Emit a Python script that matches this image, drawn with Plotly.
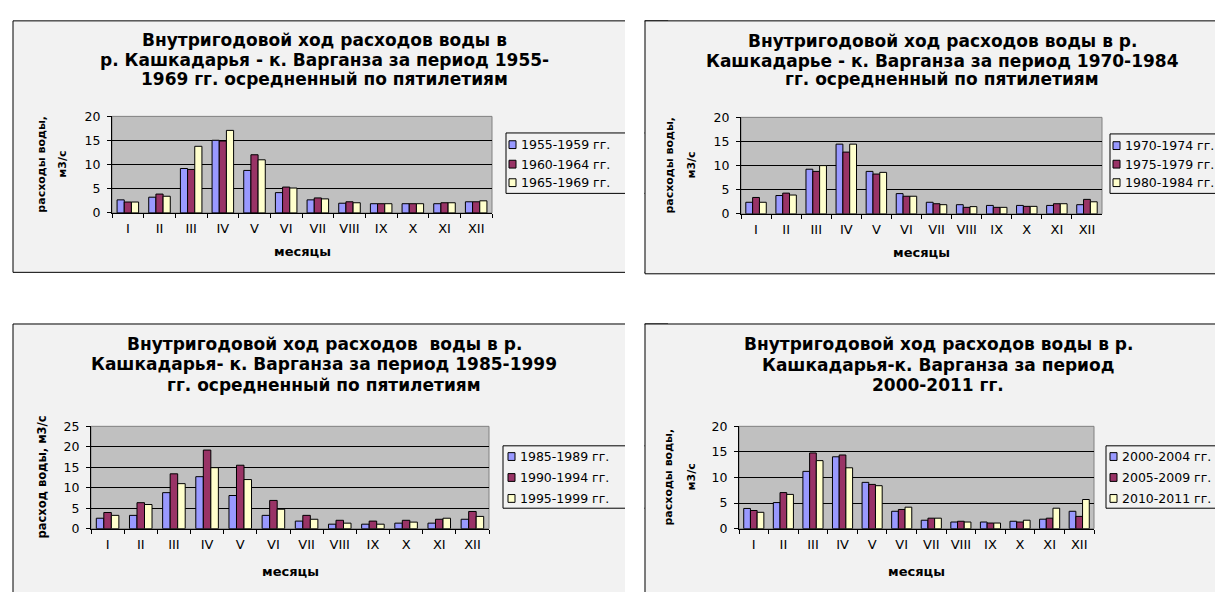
import plotly.graph_objects as go

W, H = 1223, 592

months = ["I", "II", "III", "IV", "V", "VI", "VII", "VIII", "IX", "X", "XI", "XII"]

# Panel 1: 1955-1969
names_1 = ["1955-1959 гг.", "1960-1964 гг.", "1965-1969 гг."]
q_1955_59 = [2.7, 3.25, 9.2, 15.05, 8.8, 4.2, 2.7, 2.0, 1.9, 1.9, 1.9, 2.3]
q_1960_64 = [2.25, 3.9, 9.0, 14.9, 12.05, 5.35, 3.1, 2.3, 1.9, 1.9, 2.1, 2.3]
q_1965_69 = [2.25, 3.45, 13.8, 17.1, 11.0, 5.15, 2.9, 2.1, 1.9, 1.9, 2.1, 2.5]

# Panel 2: 1970-1984
names_2 = ["1970-1974 гг.", "1975-1979 гг.", "1980-1984 гг."]
q_1970_74 = [2.4, 3.8, 9.25, 14.45, 8.8, 4.2, 2.4, 1.9, 1.75, 1.75, 1.75, 1.9]
q_1975_79 = [3.4, 4.3, 8.8, 12.8, 8.25, 3.65, 2.1, 1.35, 1.35, 1.55, 2.1, 3.0]
q_1980_84 = [2.4, 3.9, 10.0, 14.45, 8.6, 3.65, 1.9, 1.5, 1.35, 1.55, 2.1, 2.5]

# Panel 3: 1985-1999
names_3 = ["1985-1989 гг.", "1990-1994 гг.", "1995-1999 гг."]
q_1985_89 = [2.55, 3.25, 8.8, 12.7, 8.1, 3.25, 1.85, 1.1, 1.1, 1.35, 1.35, 2.3]
q_1990_94 = [3.95, 6.35, 13.4, 19.2, 15.5, 6.9, 3.25, 2.05, 1.85, 2.05, 2.3, 4.2]
q_1995_99 = [3.25, 5.9, 11.0, 14.9, 12.0, 4.75, 2.3, 1.35, 1.1, 1.6, 2.55, 3.0]

# Panel 4: 2000-2011
names_4 = ["2000-2004 гг.", "2005-2009 гг.", "2010-2011 гг."]
q_2000_04 = [3.95, 5.1, 11.2, 14.05, 9.05, 3.4, 1.65, 1.3, 1.3, 1.45, 1.85, 3.4]
q_2005_09 = [3.55, 7.05, 14.8, 14.4, 8.65, 3.75, 2.05, 1.45, 1.1, 1.3, 2.05, 2.4]
q_2010_11 = [3.2, 6.7, 13.3, 11.9, 8.4, 4.2, 2.05, 1.3, 1.1, 1.65, 4.0, 5.7]

titles = [
    ["Внутригодовой ход расходов воды в",
     "р. Кашкадарья - к. Варганза за период 1955-",
     "1969 гг. осредненный по пятилетиям"],
    ["Внутригодовой ход расходов воды в р.",
     "Кашкадарье - к. Варганза за период 1970-1984",
     "гг. осредненный по пятилетиям"],
    ["Внутригодовой ход расходов  воды в р.",
     "Кашкадарья- к. Варганза за период 1985-1999",
     "гг. осредненный по пятилетиям"],
    ["Внутригодовой ход расходов воды в р.",
     "Кашкадарья-к. Варганза за период",
     "2000-2011 гг."],
]
ytitles = [
    ["расходы воды,", "м3/с"],
    ["расходы воды,", "м3/с"],
    ["расход воды, м3/с"],
    ["расходы воды,", "м3/с"],
]
xtitle = "месяцы"
series = [
    (names_1, [q_1955_59, q_1960_64, q_1965_69]),
    (names_2, [q_1970_74, q_1975_79, q_1980_84]),
    (names_3, [q_1985_89, q_1990_94, q_1995_99]),
    (names_4, [q_2000_04, q_2005_09, q_2010_11]),
]
ymax = [20, 20, 25, 20]

colors = ["#9999FF", "#993366", "#FFFFCC"]
FONT = "DejaVu Sans"


def fx(x):
    return x / W


def fy(y):
    return 1 - y / H


# layout geometry (pixels)
panels = [
    dict(box=(5, 5, 660, 263), plot=(104, 103, 484, 202), title_x=316, title_y=(25, 45, 65),
         yt_x=(34, 55), xt_y=242, leg=(498, 120, 660, 182), leg_items=(132, 152, 171), sw_x=501),
    dict(box=(637, 5, 1221.5, 264.5), plot=(733, 104, 1094, 203), title_x=934, title_y=(26, 46, 65),
         yt_x=(662, 684), xt_y=243, leg=(1102, 121, 1221.5, 182), leg_items=(133, 152, 171), sw_x=1105),
    dict(box=(5, 316, 660, 640), plot=(83, 421, 481, 526), title_x=316, title_y=(337, 357, 379),
         yt_x=(34,), xt_y=570, leg=(495, 441, 660, 505), leg_items=(452, 473.5, 495), sw_x=500),
    dict(box=(637, 316, 1221.5, 640), plot=(731, 421, 1086, 526), title_x=930, title_y=(337, 358, 379),
         yt_x=(661, 684), xt_y=570, leg=(1098, 441, 1217, 505), leg_items=(452, 473.5, 495), sw_x=1102),
]

fig = go.Figure()
shapes = []
annotations = []
layout_axes = {}


def panel_shapes(i):
    p = panels[i]
    l, t, r, b = p["box"]
    s = [dict(type="rect", xref="paper", yref="paper", x0=fx(l), x1=fx(r), y0=fy(b), y1=fy(t),
              fillcolor="#F2F2F2", line=dict(color="black", width=1), layer="below")]
    l, t, r, b = p["leg"]
    s.append(dict(type="rect", xref="paper", yref="paper", x0=fx(l), x1=fx(r), y0=fy(b), y1=fy(t),
                  fillcolor="#F2F2F2", line=dict(color="black", width=1), layer="below"))
    for k, yc in enumerate(p["leg_items"]):
        sx = p["sw_x"]
        s.append(dict(type="rect", xref="paper", yref="paper", x0=fx(sx), x1=fx(sx + 7),
                      y0=fy(yc + 4), y1=fy(yc - 4), fillcolor=colors[k],
                      line=dict(color="black", width=1), layer="below"))
    return s


# left panels first, then white gap strip, then right panels
for i in (0, 2):
    shapes += panel_shapes(i)
shapes.append(dict(type="rect", xref="paper", yref="paper", x0=fx(617), x1=fx(636.5), y0=-0.1, y1=1.1,
                   fillcolor="white", line=dict(width=0), layer="below"))
for i in (1, 3):
    shapes += panel_shapes(i)

for i, p in enumerate(panels):
    n = "" if i == 0 else str(i + 1)
    xa, ya = "x" + n, "y" + n
    pl, pt, pr, pb = p["plot"]
    names, vals = series[i]
    for k in range(3):
        fig.add_trace(go.Bar(x=months, y=vals[k], name=names[k], xaxis=xa, yaxis=ya,
                             marker=dict(color=colors[k], line=dict(color="black", width=1)),
                             showlegend=False))
    layout_axes["xaxis" + n] = dict(
        domain=[fx(pl), fx(pr)], anchor=ya, type="category", tickson="boundaries",
        ticks="outside", ticklen=4, tickcolor="black", showline=True, linecolor="black",
        linewidth=1, showgrid=False, tickfont=dict(family=FONT, size=13, color="black"),
        ticklabelstandoff=4, fixedrange=True)
    layout_axes["yaxis" + n] = dict(
        domain=[fy(pb), fy(pt)], anchor=xa, range=[0, ymax[i]], dtick=5,
        ticks="outside", ticklen=4, tickcolor="black", showline=True, linecolor="black",
        linewidth=1, showgrid=True, gridcolor="black", gridwidth=1, zeroline=False,
        tickfont=dict(family=FONT, size=12.5, color="black"), ticklabelstandoff=4, fixedrange=True)
    # plot area background
    shapes.append(dict(type="rect", xref=xa + " domain", yref=ya + " domain", x0=0, x1=1, y0=0, y1=1,
                       fillcolor="#C0C0C0", line=dict(color="#808080", width=1), layer="below"))
    # title lines
    for line, yy in zip(titles[i], p["title_y"]):
        annotations.append(dict(text="<b>" + line + "</b>", xref="paper", yref="paper",
                                x=fx(p["title_x"]), y=fy(yy), xanchor="center", yanchor="middle",
                                showarrow=False, font=dict(family=FONT, size=17, color="black")))
    # y-axis title
    ymid = (pt + pb) / 2
    ysize = 11.5 if len(ytitles[i]) == 1 else 11
    for line, xx in zip(ytitles[i], p["yt_x"]):
        annotations.append(dict(text="<b>" + line + "</b>", xref="paper", yref="paper",
                                x=fx(xx), y=fy(ymid), xanchor="center", yanchor="middle",
                                textangle=-90, showarrow=False,
                                font=dict(family=FONT, size=ysize, color="black")))
    # x-axis title
    annotations.append(dict(text="<b>" + xtitle + "</b>", xref="paper", yref="paper",
                            x=fx((pl + pr) / 2), y=fy(p["xt_y"]), xanchor="center", yanchor="middle",
                            showarrow=False, font=dict(family=FONT, size=13, color="black")))
    # legend labels
    for k, yc in enumerate(p["leg_items"]):
        annotations.append(dict(text=names[k], xref="paper", yref="paper",
                                x=fx(p["sw_x"] + 10), y=fy(yc), xanchor="left", yanchor="middle",
                                showarrow=False, font=dict(family=FONT, size=12.5, color="black")))

fig.update_layout(
    width=W, height=H, margin=dict(l=0, r=0, t=0, b=0),
    paper_bgcolor="white", plot_bgcolor="#C0C0C0",
    barmode="group", bargap=0.32, bargroupgap=0,
    shapes=shapes, annotations=annotations, showlegend=False,
    **layout_axes,
)

fig.write_html("out.html")
